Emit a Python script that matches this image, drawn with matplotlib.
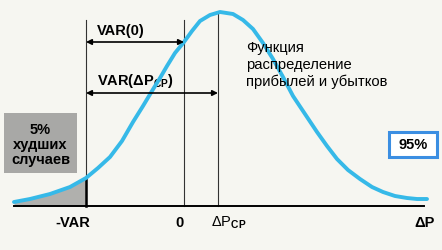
import matplotlib
matplotlib.use("Agg")
import matplotlib.pyplot as plt
from matplotlib.patches import Rectangle

plt.rcParams['font.family'] = ['Liberation Sans', 'DejaVu Sans']
plt.rcParams['mathtext.fontset'] = 'custom'
plt.rcParams['mathtext.rm'] = 'Liberation Sans'
plt.rcParams['mathtext.bf'] = 'Liberation Sans:bold'

# Profit/loss distribution curve (schematic units)
dp_vals = [14, 30, 50, 70, 86, 98, 110, 122, 133, 143, 152, 160, 167, 175,
           184, 192, 200, 210, 220, 233, 243, 253, 263, 273, 283, 293, 305,
           317, 327, 337, 348, 360, 372, 383, 395, 407, 417, 427]
density_vals = [4, 7, 12, 19, 28, 38, 49, 65, 84, 100, 115, 128, 140, 153,
                164, 175, 185, 191, 194, 192, 186, 177, 163, 147, 129, 110, 92,
                74, 60, 47, 36, 27, 19, 14, 10, 8, 7, 7]

# Marked positions on the dP axis
var_pos = 86
zero_pos = 184
mean_pos = 218
axis_end = 424
tail_count = 5   # curve points up to -VAR

bg = '#f6f6f1'
curve_color = '#36b9e8'

fig = plt.figure(figsize=(4.42, 2.51), dpi=100, facecolor=bg)
ax = fig.add_axes([0, 0, 1, 1])
ax.set_facecolor(bg)
ax.set_xlim(0, 442)
ax.set_ylim(-44, 207)
ax.axis('off')

# shaded 5% tail
ax.fill_between(dp_vals[:tail_count], 0, density_vals[:tail_count],
                color='#b0b0ad', lw=0, zorder=1)

# vertical guide lines
ax.plot([var_pos, var_pos], [0, 186], color='#333333', lw=0.8, zorder=2)
ax.plot([zero_pos, zero_pos], [0, 186], color='#333333', lw=0.8, zorder=2)
ax.plot([mean_pos, mean_pos], [0, 194], color='#333333', lw=0.8, zorder=2)
ax.plot([var_pos, var_pos], [0, density_vals[tail_count - 1]], color='black', lw=1.8, zorder=3)

# baseline
ax.plot([dp_vals[0], axis_end], [0, 0], color='black', lw=1.4, zorder=3)

# curve
ax.plot(dp_vals, density_vals, color=curve_color, lw=2.8,
        solid_joinstyle='round', solid_capstyle='round', zorder=4)

# arrows
arrow_kw = dict(arrowstyle='<|-|>', color='black', lw=1.2, mutation_scale=8,
                shrinkA=0, shrinkB=0)
ax.annotate('', xy=(var_pos, 164), xytext=(zero_pos, 164), arrowprops=arrow_kw, zorder=5)
ax.annotate('', xy=(var_pos, 113), xytext=(mean_pos, 113), arrowprops=arrow_kw, zorder=5)

ax.text(97, 176, 'VAR(0)', fontsize=10.5, fontweight='bold', va='center', ha='left')
ax.text(97, 126, r'VAR(ΔP$_{\mathbf{CP}}$)', fontsize=10.5, fontweight='bold',
        va='center', ha='left')

ax.text(246, 142, 'Функция\nраспределение\nприбылей и убытков', fontsize=10.6,
        va='center', ha='left', linespacing=1.25, zorder=6)

# 5% box
ax.add_patch(Rectangle((4, 33), 73, 60, facecolor='#a8a8a6', edgecolor='none', zorder=2))
ax.text(40.5, 62, '5%\nхудших\nслучаев', fontsize=10.5, fontweight='bold',
        ha='center', va='center', linespacing=1.1, zorder=6)

# 95% box
ax.add_patch(Rectangle((389, 49), 48, 25, facecolor='white', edgecolor='#3b8ee2',
                       lw=2.2, zorder=5))
ax.text(413, 61.5, '95%', fontsize=10.5, fontweight='bold', ha='center', va='center', zorder=6)

# axis labels
ax.text(73, -16, '-VAR', fontsize=10.5, fontweight='bold', ha='center', va='center')
ax.text(180, -16, '0', fontsize=10.5, fontweight='bold', ha='center', va='center')
ax.text(211, -16, r'ΔP$_{\mathbf{CP}}$', fontsize=10.5, ha='left', va='center')
ax.text(425, -16, 'ΔP', fontsize=10.5, fontweight='bold', ha='center', va='center')

fig.savefig('out.png', dpi=100, facecolor=bg)
